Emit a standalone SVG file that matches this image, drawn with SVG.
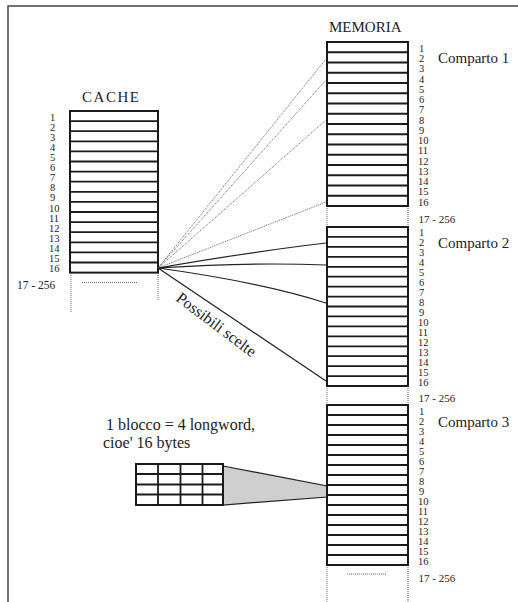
<svg xmlns="http://www.w3.org/2000/svg" width="518" height="602" viewBox="0 0 518 602" font-family="'Liberation Serif', 'DejaVu Serif', serif">
<style>
.t{font-family:'Liberation Serif','DejaVu Serif',serif;fill:#222}
.n{font-family:'Liberation Serif','DejaVu Serif',serif;font-size:10.5px;fill:#222}
.box{fill:#fff;stroke:#1a1a1a;stroke-width:2}
.row{stroke:#1a1a1a;stroke-width:1.8}
.dot{stroke:#666;stroke-width:1;stroke-dasharray:1 1;fill:none}
.con{stroke:#222;stroke-width:1.2;fill:none}
</style>
<rect width="518" height="602" fill="#fff"/>
<path d="M8,602 V6 H518" fill="none" stroke="#444" stroke-width="1.5"/>

<g id="cache">
<text class="t" x="82" y="102" font-size="15" textLength="57" lengthAdjust="spacing">CACHE</text>
<rect class="box" x="70" y="111" width="88" height="161.6"/>
<path class="row" d="M70,121.1H158M70,131.2H158M70,141.3H158M70,151.4H158M70,161.5H158M70,171.6H158M70,181.7H158M70,191.8H158M70,201.9H158M70,212H158M70,222.1H158M70,232.2H158M70,242.3H158M70,252.4H158M70,262.5H158"/>
<path class="dot" d="M71,273V312M158,273V300M82,282.5H137"/>
<g class="n">
<text x="50" y="120.6">1</text><text x="50" y="130.7">2</text><text x="50" y="140.8">3</text><text x="50" y="150.9">4</text>
<text x="50" y="161">5</text><text x="50" y="171.1">6</text><text x="50" y="181.2">7</text><text x="50" y="191.3">8</text>
<text x="50" y="201.4">9</text><text x="49" y="211.5">10</text><text x="49" y="221.6">11</text><text x="49" y="231.7">12</text>
<text x="49" y="241.8">13</text><text x="49" y="251.9">14</text><text x="49" y="262">15</text><text x="49" y="272.1">16</text>
</g>
<text class="t" x="17" y="289" font-size="11.5">17 - 256</text>
</g>

<g id="block">
<text class="t" x="106" y="430" font-size="16">1 blocco = 4 longword,</text>
<text class="t" x="103" y="448" font-size="16">cioe' 16 bytes</text>
<polygon points="223,466 327,486 327,497 223,505" fill="#cfcfcf" stroke="#222" stroke-width="1.2"/>
<rect class="box" x="136" y="464" width="87" height="41"/>
<path class="row" d="M158,464V505M180.5,464V505M202.5,464V505M136,474H223M136,484.5H223M136,494.5H223"/>
</g>

<g id="connectors">
<path class="dot" d="M158,268L326,59M158,268L326,80M158,268L326,120M158,268L326,202"/>
<path class="con" d="M158,268Q250,252 326,243M158,268Q250,262 326,265M158,268Q260,282 326,303M158,268L326,381"/>
<text class="t" x="175" y="300" font-size="16" transform="rotate(37 175 300)">Possibili scelte</text>
</g>

<g id="memory">
<text class="t" x="329" y="32" font-size="15">MEMORIA</text>
<path class="dot" d="M327,206V227M408,206V227M327,386V405M408,386V405M327,565V602M408,565V602M347,574H387"/>
<text class="t" x="418.5" y="223" font-size="11">17 - 256</text>
<text class="t" x="418.5" y="402" font-size="11">17 - 256</text>
<text class="t" x="418.5" y="582" font-size="11">17 - 256</text>
</g>

<g id="comparto1">
<rect class="box" x="327" y="42" width="81" height="164"/>
<path class="row" d="M327,52.25H408M327,62.5H408M327,72.75H408M327,83H408M327,93.25H408M327,103.5H408M327,113.75H408M327,124H408M327,134.25H408M327,144.5H408M327,154.75H408M327,165H408M327,175.25H408M327,185.5H408M327,195.75H408"/>
<g class="n">
<text x="419" y="51.7">1</text><text x="419" y="62">2</text><text x="419" y="72.2">3</text><text x="419" y="82.5">4</text>
<text x="419" y="92.7">5</text><text x="419" y="103">6</text><text x="419" y="113.2">7</text><text x="419" y="123.5">8</text>
<text x="419" y="133.7">9</text><text x="418" y="144">10</text><text x="418" y="154.2">11</text><text x="418" y="164.5">12</text>
<text x="418" y="174.7">13</text><text x="418" y="185">14</text><text x="418" y="195.2">15</text><text x="418" y="205.5">16</text>
</g>
<text class="t" x="438" y="63" font-size="15">Comparto 1</text>
</g>

<g id="comparto2">
<rect class="box" x="327" y="227" width="81" height="159"/>
<path class="row" d="M327,236.9H408M327,246.9H408M327,256.8H408M327,266.8H408M327,276.7H408M327,286.6H408M327,296.6H408M327,306.5H408M327,316.4H408M327,326.4H408M327,336.3H408M327,346.3H408M327,356.2H408M327,366.1H408M327,376.1H408"/>
<g class="n">
<text x="419" y="236.4">1</text><text x="419" y="246.4">2</text><text x="419" y="256.3">3</text><text x="419" y="266.3">4</text>
<text x="419" y="276.2">5</text><text x="419" y="286.1">6</text><text x="419" y="296.1">7</text><text x="419" y="306">8</text>
<text x="419" y="315.9">9</text><text x="418" y="325.9">10</text><text x="418" y="335.8">11</text><text x="418" y="345.8">12</text>
<text x="418" y="355.7">13</text><text x="418" y="365.6">14</text><text x="418" y="375.6">15</text><text x="418" y="385.5">16</text>
</g>
<text class="t" x="438" y="248" font-size="15">Comparto 2</text>
</g>

<g id="comparto3">
<rect class="box" x="327" y="405" width="81" height="160"/>
<path class="row" d="M327,415H408M327,425H408M327,435H408M327,445H408M327,455H408M327,465H408M327,475H408M327,485H408M327,495H408M327,505H408M327,515H408M327,525H408M327,535H408M327,545H408M327,555H408"/>
<g class="n">
<text x="419" y="414.5">1</text><text x="419" y="424.5">2</text><text x="419" y="434.5">3</text><text x="419" y="444.5">4</text>
<text x="419" y="454.5">5</text><text x="419" y="464.5">6</text><text x="419" y="474.5">7</text><text x="419" y="484.5">8</text>
<text x="419" y="494.5">9</text><text x="418" y="504.5">10</text><text x="418" y="514.5">11</text><text x="418" y="524.5">12</text>
<text x="418" y="534.5">13</text><text x="418" y="544.5">14</text><text x="418" y="554.5">15</text><text x="418" y="564.5">16</text>
</g>
<text class="t" x="438" y="427" font-size="15">Comparto 3</text>
</g>
</svg>
